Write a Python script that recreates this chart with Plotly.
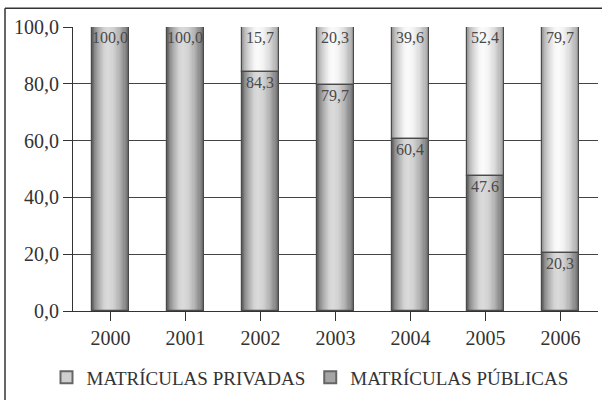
import math
import plotly.graph_objects as go

# Enrollment share (%) by year
anos = ["2000", "2001", "2002", "2003", "2004", "2005", "2006"]
publicas = [100.0, 100.0, 84.3, 79.7, 60.4, 47.6, 20.3]
privadas = [0.0, 0.0, 15.7, 20.3, 39.6, 52.4, 79.7]
rotulos_publicas = ["100,0", "100,0", "84,3", "79,7", "60,4", "47.6", "20,3"]
rotulos_privadas = ["", "", "15,7", "20,3", "39,6", "52,4", "79,7"]

W, H = 602, 400
M_L, M_R, M_T, M_B = 73, 4, 27, 86
BAR_W = 0.5
FONT = "Liberation Serif"


def mix(c1, c2, t):
    return "rgb(%d,%d,%d)" % tuple(round(a + (b - a) * t) for a, b in zip(c1, c2))


def cylinder(y, base, edge, peak, n=18, p=0.43):
    """Nested bar layers producing a horizontal cylinder shading."""
    traces = []
    x_peak = -BAR_W / 2 + p * BAR_W
    for i in range(n):
        s = i / n
        left = -BAR_W / 2 + s * (x_peak + BAR_W / 2)
        right = BAR_W / 2 - s * (BAR_W / 2 - x_peak)
        g = math.sin(s * math.pi / 2) ** 0.9
        traces.append(go.Bar(
            x=anos, y=y, base=base, width=right - left, offset=left,
            marker=dict(color=mix(edge, peak, g), line=dict(width=0)),
            showlegend=False, hoverinfo="skip",
        ))
    return traces


fig = go.Figure()

PUB_EDGE, PUB_PEAK = (100, 100, 100), (218, 218, 218)
PRI_EDGE, PRI_PEAK = (155, 155, 155), (250, 250, 250)

for t in cylinder(publicas, [0] * len(anos), PUB_EDGE, PUB_PEAK):
    fig.add_trace(t)
for t in cylinder(privadas, publicas, PRI_EDGE, PRI_PEAK):
    fig.add_trace(t)

# Outlines and value labels
for y, base, txt in ((publicas, [0] * len(anos), rotulos_publicas),
                     (privadas, publicas, rotulos_privadas)):
    fig.add_trace(go.Bar(
        x=anos, y=y, base=base, width=BAR_W,
        marker=dict(color="rgba(0,0,0,0)", line=dict(color="#4a4a4a", width=1.2)),
        text=txt, textposition="inside", insidetextanchor="end",
        textangle=0, constraintext="none",
        textfont=dict(family=FONT, size=16, color="#4a4a4a"),
        showlegend=False, hoverinfo="skip",
    ))

# Legend swatches
for nome, edge, peak in (("MATRÍCULAS PRIVADAS", PRI_EDGE, PRI_PEAK),
                         ("MATRÍCULAS PÚBLICAS", PUB_EDGE, PUB_PEAK)):
    fig.add_trace(go.Bar(
        x=[anos[0]], y=[None], name=nome,
        marker=dict(color=mix(edge, peak, 0.55), line=dict(color="#666666", width=1)),
    ))

pw = W - M_L - M_R
ph = H - M_T - M_B


def px(x):
    return (x - M_L) / pw


def py(y):
    return (H - M_B - y) / ph


# Outer frame (top and left edges)
fig.add_shape(type="line", xref="paper", yref="paper",
              x0=px(5), x1=px(610), y0=py(8), y1=py(8),
              line=dict(color="#333333", width=1.5))
fig.add_shape(type="line", xref="paper", yref="paper",
              x0=px(5), x1=px(5), y0=py(8), y1=py(410),
              line=dict(color="#333333", width=1.5))

fig.update_layout(
    width=W, height=H,
    margin=dict(l=M_L, r=M_R, t=M_T, b=M_B, pad=0),
    barmode="overlay",
    bargap=0,
    separators=", ",
    paper_bgcolor="white", plot_bgcolor="white",
    font=dict(family=FONT, size=20, color="#333333"),
    showlegend=True,
    legend=dict(orientation="h", x=px(310), xanchor="center",
                y=py(381), yanchor="middle",
                font=dict(family=FONT, size=19, color="#333333"),
                itemsizing="constant", traceorder="normal",
                bgcolor="rgba(0,0,0,0)"),
    xaxis=dict(type="category", categoryorder="array", categoryarray=anos,
               showgrid=False, showline=True, linecolor="#333333", linewidth=1,
               ticks="outside", ticklen=9, tickcolor="#333333",
               tickfont=dict(family=FONT, size=20, color="#333333"),
               zeroline=False, fixedrange=True),
    yaxis=dict(range=[0, 100], dtick=20, tickformat=".1f",
               showgrid=True, gridcolor="#444444", gridwidth=1,
               showline=True, linecolor="#333333", linewidth=1,
               ticks="outside", ticklen=9, tickcolor="#333333",
               tickfont=dict(family=FONT, size=20, color="#333333"),
               zeroline=False, fixedrange=True),
)

fig.write_html("out.html")
